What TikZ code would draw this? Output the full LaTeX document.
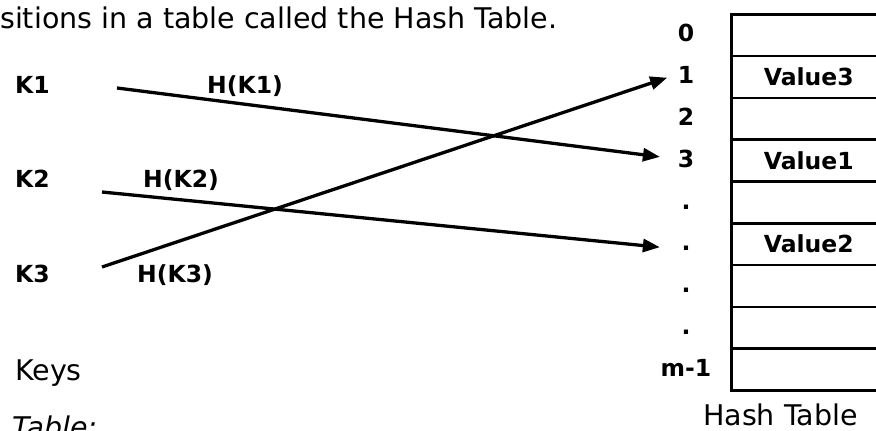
\documentclass[tikz,border=0pt]{standalone}
\usepackage{fontspec}
\setmainfont{DejaVu Sans}
\usetikzlibrary{arrows.meta,positioning}

\begin{document}
\begin{tikzpicture}[
  x=1pt, y=-1pt,
  big/.style={font=\fontsize{28.5}{30}\selectfont, inner sep=0pt, anchor=base west},
  lbl/.style={font=\bfseries\fontsize{23.5}{25}\selectfont, inner sep=0pt, anchor=base west},
  idx/.style={font=\bfseries\fontsize{23.5}{25}\selectfont, inner sep=0pt,
              minimum width=22pt, anchor=base},
  cell/.style={rectangle, draw, line width=2.5pt, minimum width=155pt,
               minimum height=41.8pt, inner sep=0pt, anchor=north west},
  arr/.style={-{Triangle[length=17pt,width=13pt]}, line width=3.3pt}
]
  \useasboundingbox (0,0) rectangle (876,431);

  \node[big] (title) at (0,28) {sitions in a table called the Hash Table.};

  % keys and their hash labels
  \node[lbl] (k1) at (15,93)  {K1};
  \node[lbl] (k2) at (15,187) {K2};
  \node[lbl] (k3) at (15,282) {K3};
  \node[lbl] (h1) at (207,93)  {H(K1)};
  \node[lbl] (h2) at (143,187) {H(K2)};
  \node[lbl] (h3) at (137,282) {H(K3)};
  \node[big] (keys) at (15,380) {Keys};
  \node[big] (tbl)  at (12,437) {\itshape Table:};

  % hash table: slots and their indices
  \foreach \t [count=\i from 0] in {0,1,2,3,.,.,.,.,m-1} {
    \node[cell] (c\i) at (730,13+41.8*\i) {};
    \node[idx]  (i\i) at (686,41.9+41.8*\i) {\t};
  }
  \node[lbl, anchor=center] (v3) at (c1) {Value3};
  \node[lbl, anchor=center] (v1) at (c3) {Value1};
  \node[lbl, anchor=center] (v2) at (c5) {Value2};
  \node[big] (htitle) at (703,425) {Hash Table};

  % hash function arrows
  \coordinate (s1) at (117,88);
  \coordinate (s2) at (102,192);
  \coordinate (s3) at (102,267);
  \draw[arr, shorten >=15pt] (s1) -- (i3.west);
  \draw[arr, shorten >=15pt] (s2) -- (i5.west);
  \draw[arr, shorten >=8pt]  (s3) -- (i1.west);
\end{tikzpicture}
\end{document}
